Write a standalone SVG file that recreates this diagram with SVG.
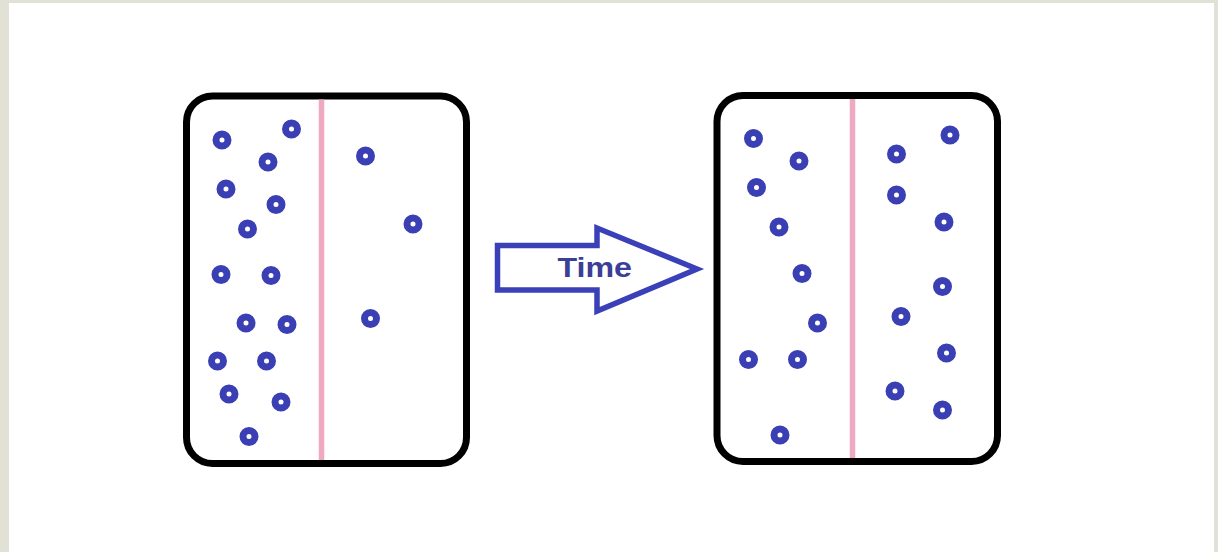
<svg xmlns="http://www.w3.org/2000/svg" width="1218" height="552" viewBox="0 0 1218 552">
<style>
.box{fill:#fff;stroke:#000;stroke-width:7}
.wall{stroke:#f0a9c3;stroke-width:5.5}
.p{fill:#fff;stroke:#3a3fb4;stroke-width:7}
.arrow{fill:#fff;stroke:#3a40b8;stroke-width:5.5;stroke-linejoin:miter}
.lbl{font-family:"Liberation Sans",Arial,sans-serif;font-weight:bold;font-size:28.5px;fill:#3b3f98}
</style>
<rect width="1218" height="552" fill="#e1e1d6"/>
<rect x="9" y="3" width="1205" height="549" fill="#fff"/>
<g id="before">
<rect class="box" x="186.5" y="96" width="280" height="367.5" rx="26"/>
<line class="wall" x1="321.5" y1="99.5" x2="321.5" y2="460"/>
<g>
<circle class="p" cx="222" cy="140" r="6"/>
<circle class="p" cx="291.5" cy="129" r="6"/>
<circle class="p" cx="268" cy="162" r="6"/>
<circle class="p" cx="226" cy="189" r="6"/>
<circle class="p" cx="276" cy="204.5" r="6"/>
<circle class="p" cx="247.5" cy="229" r="6"/>
<circle class="p" cx="221" cy="274.5" r="6"/>
<circle class="p" cx="271" cy="275.5" r="6"/>
<circle class="p" cx="246" cy="323" r="6"/>
<circle class="p" cx="287" cy="324.5" r="6"/>
<circle class="p" cx="217.5" cy="361" r="6"/>
<circle class="p" cx="266.5" cy="361" r="6"/>
<circle class="p" cx="229" cy="394" r="6"/>
<circle class="p" cx="281" cy="402" r="6"/>
<circle class="p" cx="249" cy="436.5" r="6"/>
<circle class="p" cx="365.5" cy="156" r="6"/>
<circle class="p" cx="413" cy="224" r="6"/>
<circle class="p" cx="370.5" cy="318.5" r="6"/>
</g>
</g>
<g id="time-arrow">
<path class="arrow" d="M497.5,245.5 H597 V228 L697,269 L597,311 V290 H497.5 Z"/>
<text class="lbl" x="557.5" y="277" textLength="74.5" lengthAdjust="spacingAndGlyphs">Time</text>
</g>
<g id="after">
<rect class="box" x="717" y="95.5" width="280.5" height="366" rx="26"/>
<line class="wall" x1="852.5" y1="99" x2="852.5" y2="458"/>
<g>
<circle class="p" cx="753.5" cy="138.5" r="6"/>
<circle class="p" cx="799" cy="161" r="6"/>
<circle class="p" cx="756.5" cy="187.5" r="6"/>
<circle class="p" cx="779" cy="227" r="6"/>
<circle class="p" cx="802" cy="273.5" r="6"/>
<circle class="p" cx="817.5" cy="323" r="6"/>
<circle class="p" cx="748.5" cy="359.5" r="6"/>
<circle class="p" cx="797.5" cy="359.5" r="6"/>
<circle class="p" cx="780" cy="435" r="6"/>
<circle class="p" cx="950" cy="135" r="6"/>
<circle class="p" cx="896.5" cy="154" r="6"/>
<circle class="p" cx="896.5" cy="195" r="6"/>
<circle class="p" cx="944" cy="222" r="6"/>
<circle class="p" cx="942.5" cy="286.5" r="6"/>
<circle class="p" cx="901" cy="316.5" r="6"/>
<circle class="p" cx="946.5" cy="353" r="6"/>
<circle class="p" cx="895" cy="391" r="6"/>
<circle class="p" cx="942.5" cy="410" r="6"/>
</g>
</g>
</svg>
